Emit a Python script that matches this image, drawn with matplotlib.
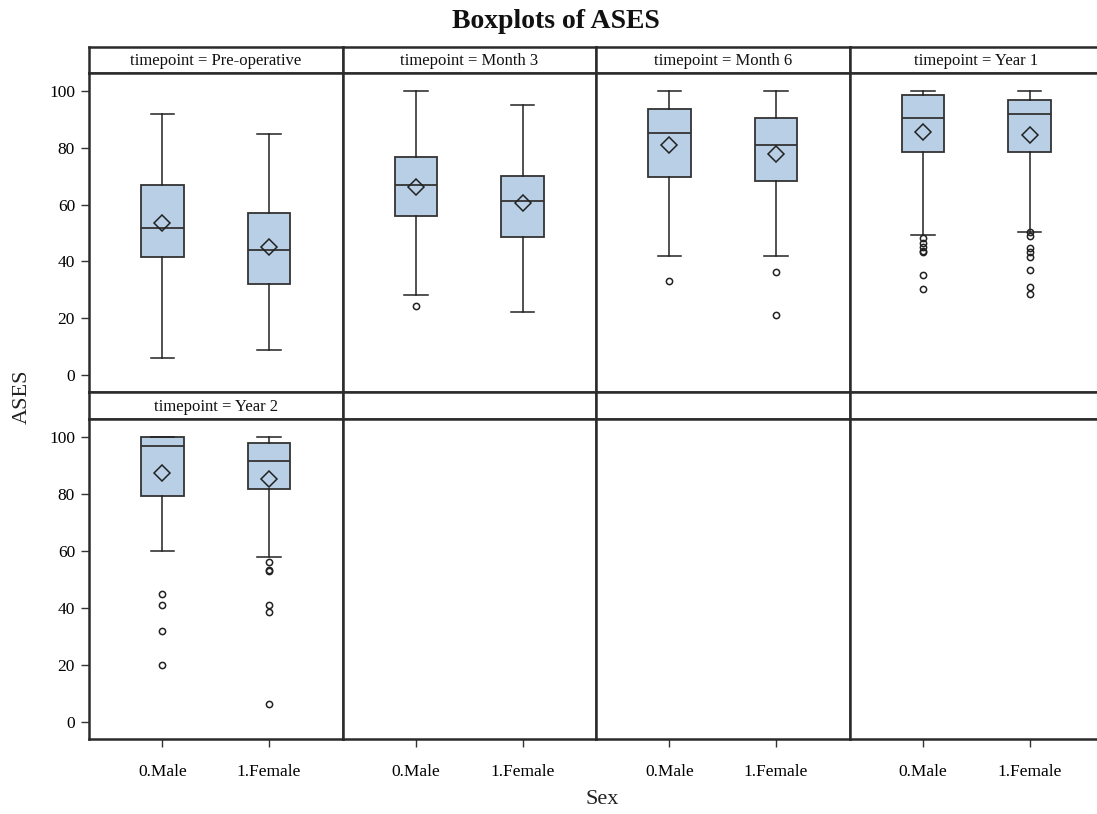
import matplotlib
matplotlib.use("Agg")
import matplotlib.pyplot as plt

plt.rcParams['font.family'] = ['Liberation Serif', 'DejaVu Serif']

timepoints = ["Pre-operative", "Month 3", "Month 6", "Year 1", "Year 2"]
sexes = ["0.Male", "1.Female"]

# Summary statistics per timepoint: [Male, Female]
whisker_low = [[6.1, 8.7], [28.0, 22.2], [42.0, 42.0], [49.2, 50.3], [59.9, 57.9]]
q1 = [[41.4, 32.0], [56.0, 48.7], [69.6, 68.4], [78.4, 78.4], [79.2, 81.8]]
median = [[51.9, 44.1], [67.0, 61.3], [85.1, 81.1], [90.3, 92.0], [96.8, 91.7]]
q3 = [[67.0, 57.1], [76.8, 70.2], [93.5, 90.4], [98.7, 96.7], [100.0, 97.9]]
whisker_high = [[91.8, 84.7], [100.0, 95.0], [100.0, 100.0], [100.0, 100.0], [100.0, 100.0]]
means = [[53.5, 45.0], [66.0, 60.4], [80.9, 77.8], [85.4, 84.6], [87.5, 85.4]]
outliers = [
    [[], []],
    [[24.3], []],
    [[33.1], [36.4, 21.2]],
    [[48.2, 46.5, 45.0, 43.5, 43.2, 35.2, 30.2],
     [50.5, 48.9, 44.7, 43.3, 41.5, 37.0, 31.0, 28.4]],
    [[44.8, 41.2, 31.8, 19.8], [56.1, 53.2, 52.9, 41.2, 38.6, 6.3]],
]

yticks = [0, 20, 40, 60, 80, 100]

W, H = 1097, 814
fig = plt.figure(figsize=(W / 100, H / 100), dpi=100)

frame_col = "#2b2b2b"
box_fill = "#b9cfe6"
line_col = "#222222"

left_px = 89
panel_w = 253.5
rows = [(47, 73, 392), (392, 419, 739)]  # strip top, plot top, plot bottom


def fx(px):
    return px / W


def fy(py):
    return 1 - py / H


for r in range(2):
    s_top, p_top, p_bot = rows[r]
    for c in range(4):
        idx = r * 4 + c
        x0 = left_px + c * panel_w
        # strip
        sax = fig.add_axes([fx(x0), fy(p_top), fx(panel_w), (p_top - s_top) / H])
        sax.set_xticks([])
        sax.set_yticks([])
        for sp in sax.spines.values():
            sp.set_color(frame_col)
            sp.set_linewidth(1.8)
        if idx < len(timepoints):
            sax.text(0.5, 0.45, f"timepoint = {timepoints[idx]}", ha="center",
                     va="center", fontsize=12, color="#111111",
                     transform=sax.transAxes)
        # plot area
        ax = fig.add_axes([fx(x0), fy(p_bot), fx(panel_w), (p_bot - p_top) / H])
        for sp in ax.spines.values():
            sp.set_color(frame_col)
            sp.set_linewidth(1.8)
        ax.set_xlim(-0.69, 1.69)
        ax.set_ylim(-6.0, 106.3)
        ax.set_yticks(yticks)
        ax.set_xticks([0, 1])
        ax.tick_params(axis="both", direction="out", length=6, width=1,
                       color="#333333", labelsize=12.5, pad=4)
        if c == 0:
            ax.set_yticklabels([str(v) for v in yticks])
        else:
            ax.tick_params(axis="y", left=False, labelleft=False)
        if r == 1:
            ax.set_xticklabels(sexes)
            ax.tick_params(axis="x", pad=12)
        else:
            ax.tick_params(axis="x", bottom=False, labelbottom=False)

        if idx < len(timepoints):
            stats = []
            for k in range(2):
                stats.append(dict(
                    whislo=whisker_low[idx][k], q1=q1[idx][k],
                    med=median[idx][k], q3=q3[idx][k],
                    whishi=whisker_high[idx][k], mean=means[idx][k],
                    fliers=outliers[idx][k], label=sexes[k]))
            ax.bxp(stats, positions=[0, 1], widths=0.40, capwidths=0.22,
                   showmeans=True, patch_artist=True, manage_ticks=False,
                   boxprops=dict(facecolor=box_fill, edgecolor="#333333",
                                 linewidth=1.3),
                   medianprops=dict(color="#333333", linewidth=1.3),
                   whiskerprops=dict(color=line_col, linewidth=1.1),
                   capprops=dict(color=line_col, linewidth=1.1),
                   meanprops=dict(marker="D", markerfacecolor="none",
                                  markeredgecolor=line_col, markersize=8,
                                  markeredgewidth=1.1),
                   flierprops=dict(marker="o", markerfacecolor="none",
                                   markeredgecolor=line_col, markersize=4.5,
                                   markeredgewidth=1.1))

fig.text(fx(556), fy(22), "Boxplots of ASES", ha="center", va="center",
         fontsize=20, fontweight="bold", color="#111111")
fig.text(fx(602), fy(799), "Sex", ha="center", va="center", fontsize=16,
         color="#222222")
fig.text(fx(22), fy(397), "ASES", ha="center", va="center", fontsize=16,
         rotation=90, color="#222222")

fig.savefig("out.png", dpi=100)
